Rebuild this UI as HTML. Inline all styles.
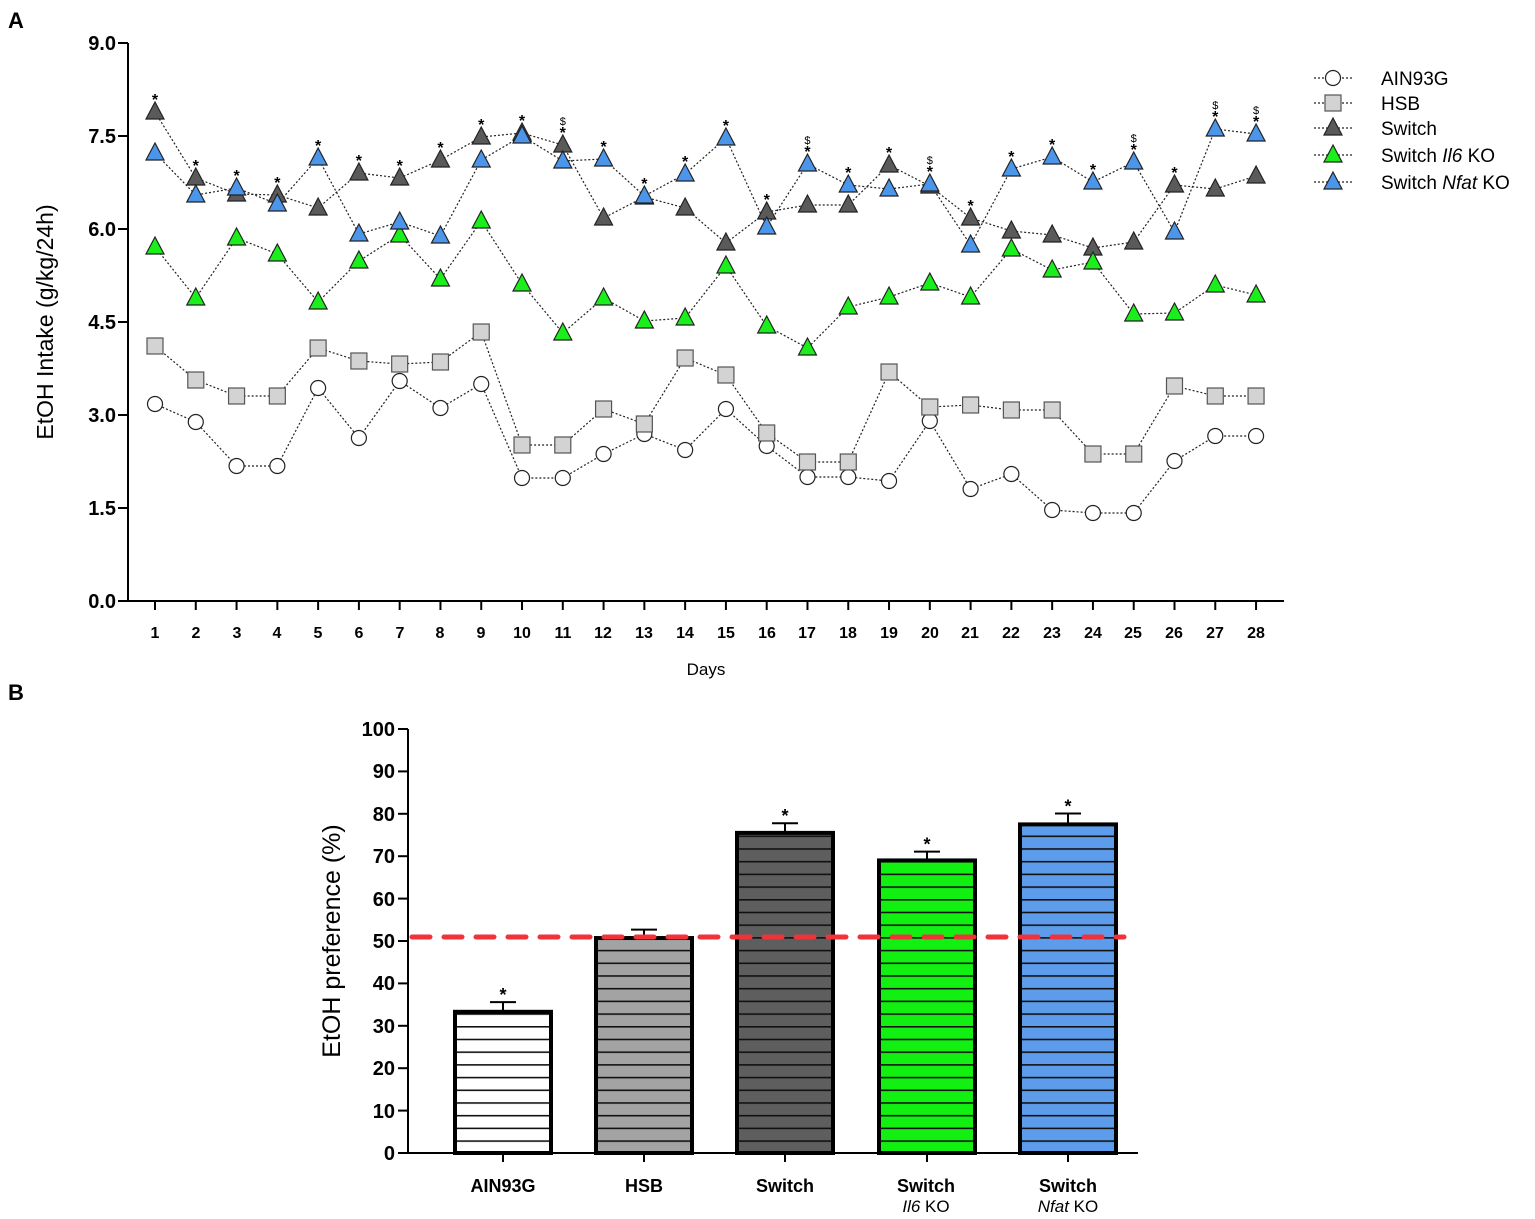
<!DOCTYPE html>
<html><head><meta charset="utf-8"><style>
body{margin:0;background:#fff}
svg{display:block;font-family:"Liberation Sans",Arial,sans-serif}
.t{font-size:20px;font-weight:bold}
.d{font-size:16px;font-weight:bold}
.b{font-size:18px;font-weight:bold}
</style></head><body>
<svg id="s" width="1535" height="1219" viewBox="0 0 1535 1219" xmlns="http://www.w3.org/2000/svg">
<defs>
<pattern id="st" patternUnits="userSpaceOnUse" width="200" height="12.7" y="1153"><rect width="200" height="12.7" fill="none"/><line x1="0" y1="0.8" x2="200" y2="0.8" stroke="#111" stroke-width="1.6"/></pattern>
</defs>
<text x="8" y="28" style="font-size:22px;font-weight:bold">A</text>
<text x="8" y="700" style="font-size:22px;font-weight:bold">B</text>
<g id="A"></g>
<g class="t" text-anchor="end">
<text x="116" y="50">9.0</text><text x="116" y="143">7.5</text><text x="116" y="236">6.0</text><text x="116" y="329">4.5</text><text x="116" y="422">3.0</text><text x="116" y="515">1.5</text><text x="116" y="608">0.0</text>
</g>
<text transform="translate(53,322) rotate(-90)" text-anchor="middle" style="font-size:23px">EtOH Intake (g/kg/24h)</text>
<g class="d" text-anchor="middle">
<text x="155" y="638">1</text><text x="196" y="638">2</text><text x="237" y="638">3</text><text x="277" y="638">4</text><text x="318" y="638">5</text><text x="359" y="638">6</text><text x="400" y="638">7</text><text x="440" y="638">8</text><text x="481" y="638">9</text><text x="522" y="638">10</text><text x="563" y="638">11</text><text x="603" y="638">12</text><text x="644" y="638">13</text><text x="685" y="638">14</text><text x="726" y="638">15</text><text x="767" y="638">16</text><text x="807" y="638">17</text><text x="848" y="638">18</text><text x="889" y="638">19</text><text x="930" y="638">20</text><text x="970" y="638">21</text><text x="1011" y="638">22</text><text x="1052" y="638">23</text><text x="1093" y="638">24</text><text x="1133" y="638">25</text><text x="1174" y="638">26</text><text x="1215" y="638">27</text><text x="1256" y="638">28</text>
</g>
<text x="706" y="675" text-anchor="middle" style="font-size:17px">Days</text>
<g style="font-size:19px">
<text x="1381" y="85">AIN93G</text><text x="1381" y="110">HSB</text><text x="1381" y="135">Switch</text>
<text x="1381" y="162">Switch <tspan font-style="italic">Il6</tspan> KO</text>
<text x="1381" y="189">Switch <tspan font-style="italic">Nfat</tspan> KO</text>
</g>
<g id="B"></g>
<g class="t" text-anchor="end">
<text x="395" y="1160">0</text><text x="395" y="1118">10</text><text x="395" y="1075">20</text><text x="395" y="1033">30</text><text x="395" y="990">40</text><text x="395" y="948">50</text><text x="395" y="906">60</text><text x="395" y="863">70</text><text x="395" y="821">80</text><text x="395" y="778">90</text><text x="395" y="736">100</text>
</g>
<text transform="translate(340,941) rotate(-90)" text-anchor="middle" style="font-size:25px">EtOH preference (%)</text>
<g class="b" text-anchor="middle">
<text x="503" y="1192">AIN93G</text><text x="644" y="1192">HSB</text><text x="785" y="1192">Switch</text>
<text x="926" y="1192">Switch</text><text x="926" y="1212" font-weight="normal" font-size="17"><tspan font-style="italic">Il6</tspan> KO</text>
<text x="1068" y="1192">Switch</text><text x="1068" y="1212" font-weight="normal" font-size="17"><tspan font-style="italic">Nfat</tspan> KO</text>
</g>
<g id="star" style="font-size:18px;font-weight:bold" text-anchor="middle"></g>
</svg>
<script>
(function(){
var NS="http://www.w3.org/2000/svg";
function el(p,t,a){var e=document.createElementNS(NS,t);for(var k in a)e.setAttribute(k,a[k]);document.getElementById(p).appendChild(e);return e;}
el("A","line",{x1:128,y1:43,x2:128,y2:602,stroke:"#000","stroke-width":2});
el("A","line",{x1:127,y1:601,x2:1284,y2:601,stroke:"#000","stroke-width":2});
for(var i=0;i<7;i++){var y=43+i*93;el("A","line",{x1:118,y1:y,x2:128,y2:y,stroke:"#000","stroke-width":2});}
function X(d){return 155+(d-1)*40.78;}
for(var d=1;d<=28;d++)el("A","line",{x1:X(d),y1:601,x2:X(d),y2:610,stroke:"#000","stroke-width":2});
var S={
c:[404,422,466,466,388,438,381,408,384,478,478,454,434,450,409,446,477,477,481,421,489,474,510,513,513,461,436,436],
s:[346,380,396,396,348,361,364,362,332,445,445,409,424,358,375,433,462,462,372,407,405,410,410,454,454,386,396,396],
w:[112,178,194,195,208,173,178,160,137,133,145,218,197,208,243,212,205,205,165,186,218,231,235,248,242,185,189,176],
g:[247,298,238,254,302,261,235,279,221,284,333,298,321,318,266,326,348,307,297,283,297,249,270,262,314,313,285,295],
n:[153,195,188,204,158,234,222,236,160,136,161,159,196,174,138,227,164,185,189,184,245,169,157,182,162,232,129,134]};
function mark(x,y,t){
 if(t=="c")el("A","circle",{cx:x,cy:y,r:7.5,fill:"#fff",stroke:"#222","stroke-width":1.2});
 else if(t=="s")el("A","rect",{x:x-8,y:y-8,width:16,height:16,fill:"#d3d3d3",stroke:"#555","stroke-width":1.2});
 else{var f={w:"#5a5a5a",g:"#1bef1b",n:"#4b95ea"}[t];el("A","polygon",{points:(x-9)+","+(y+7)+" "+(x+9)+","+(y+7)+" "+x+","+(y-10),fill:f,stroke:"#222","stroke-width":1.2});}
}
["c","s","w","g","n"].forEach(function(t){
 var p=S[t].map(function(y,i){return X(i+1)+","+y;}).join(" ");
 el("A","polyline",{points:p,fill:"none",stroke:"#222","stroke-width":1.2,"stroke-dasharray":"2,2"});
});
["c","s","w","g","n"].forEach(function(t){S[t].forEach(function(y,i){mark(X(i+1),y,t);});});
[["c",78],["s",103],["w",128],["g",155],["n",182]].forEach(function(a){
 el("A","line",{x1:1314,y1:a[1],x2:1354,y2:a[1],stroke:"#222","stroke-width":1.2,"stroke-dasharray":"2,2"});mark(1333,a[1],a[0]);});
var dol=[11,17,20,25,27,28];
for(var d=1;d<=28;d++){var tp=Math.min(S.w[d-1],S.n[d-1])-13;var x=X(d);
 var tx=el("star","text",{x:x,y:tp+6,"font-size":"16"});tx.textContent="*";
 if(dol.indexOf(d)>=0){var t2=el("star","text",{x:x,y:tp-7,"font-size":"11","font-weight":"normal"});t2.textContent="$";}}
el("B","line",{x1:408,y1:729,x2:408,y2:1154,stroke:"#000","stroke-width":2});
el("B","line",{x1:407,y1:1153,x2:1138,y2:1153,stroke:"#000","stroke-width":2});
for(var i=0;i<=10;i++){var y=1153-i*42.4;el("B","line",{x1:398,y1:y,x2:408,y2:y,stroke:"#000","stroke-width":2});}
var bars=[[503,33.3,"#ffffff",1.8],[644,50.7,"#a3a3a4",1.5],[785,75.5,"#5e5e5e",1.8],[927,69,"#12f012",1.6],[1068,77.5,"#5d9cea",2.1]];
bars.forEach(function(b){var yt=1153-b[1]*4.24;var ye=yt-b[3]*4.24-2;
 el("B","line",{x1:b[0],y1:1153,x2:b[0],y2:1162,stroke:"#000","stroke-width":2});
 el("B","line",{x1:b[0],y1:yt,x2:b[0],y2:ye,stroke:"#000","stroke-width":2});
 el("B","line",{x1:b[0]-13,y1:ye,x2:b[0]+13,y2:ye,stroke:"#000","stroke-width":2});
 el("B","rect",{x:b[0]-48,y:yt,width:96,height:1153-yt,fill:b[2]});
 el("B","rect",{x:b[0]-48,y:yt,width:96,height:1153-yt,fill:"url(#st)"});
 el("B","rect",{x:b[0]-48,y:yt,width:96,height:1153-yt,fill:"none",stroke:"#000","stroke-width":4});
 if(b[0]!=644){var s=el("star","text",{x:b[0],y:ye-1});s.textContent="*";}
});
el("B","line",{x1:412,y1:937,x2:1124,y2:937,stroke:"#f0323a","stroke-width":5,"stroke-dasharray":"18,14","stroke-linecap":"round"});
})();
</script>
</body></html>
